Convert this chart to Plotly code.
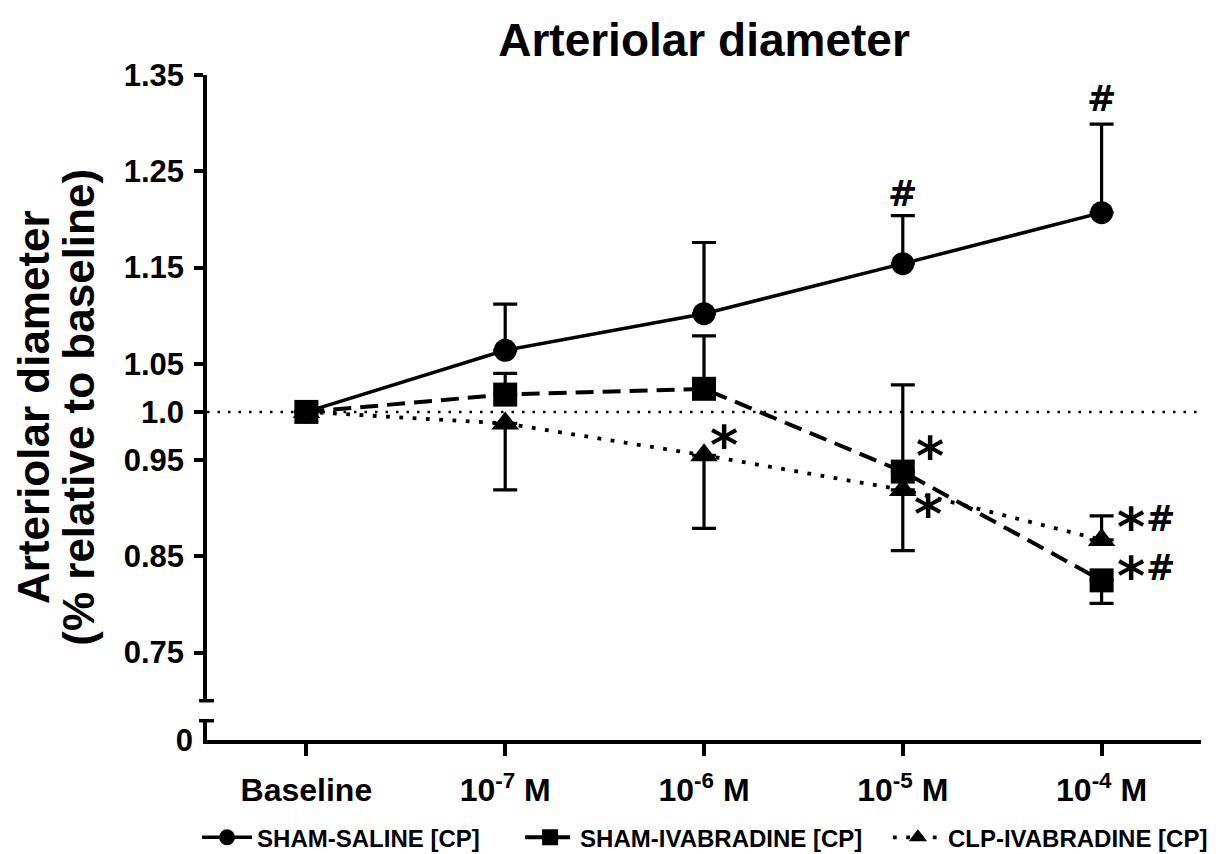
import plotly.graph_objects as go

# ---- data ----
categories = ["Baseline", "10<sup>-7</sup> M", "10<sup>-6</sup> M", "10<sup>-5</sup> M", "10<sup>-4</sup> M"]
x_idx = [0, 1, 2, 3, 4]

sham_saline = [1.0, 1.064, 1.102, 1.154, 1.207]
sham_saline_up = [0, 0.048, 0.074, 0.050, 0.092]
sham_saline_dn = [0, 0, 0, 0, 0]

sham_ivab = [1.0, 1.018, 1.024, 0.938, 0.825]
sham_ivab_up = [0, 0.022, 0.055, 0.090, 0]
sham_ivab_dn = [0, 0, 0, 0, 0.024]

clp_ivab = [1.0, 0.988, 0.955, 0.919, 0.867]
clp_ivab_up = [0, 0, 0, 0, 0.025]
clp_ivab_dn = [0, 0.069, 0.076, 0.063, 0]

y_tickvals = [0.75, 0.85, 0.95, 1.0, 1.05, 1.15, 1.25, 1.35]
y_ticktext = ["0.75", "0.85", "0.95", "1.0", "1.05", "1.15", "1.25", "1.35"]

FONT = "Liberation Sans, Arial, sans-serif"
BLACK = "black"

fig = go.Figure()

def err(up, dn):
    return dict(type="data", symmetric=False, array=up, arrayminus=dn,
                color=BLACK, thickness=3.2, width=12)

# empty trace so the lower (broken) axis segment exists
fig.add_trace(go.Scatter(x=[], y=[], xaxis="x", yaxis="y2", showlegend=False,
                         hoverinfo="skip", mode="markers"))

fig.add_trace(go.Scatter(
    x=x_idx, y=sham_saline, name="SHAM-SALINE [CP]", mode="lines+markers",
    line=dict(color=BLACK, width=3.5),
    marker=dict(symbol="circle", size=23, color=BLACK),
    error_y=err(sham_saline_up, sham_saline_dn), legend="legend", cliponaxis=False))

fig.add_trace(go.Scatter(
    x=x_idx, y=clp_ivab, name="CLP-IVABRADINE [CP]", mode="lines+markers",
    line=dict(color=BLACK, width=3.8, dash="3.8px,9.5px"),
    marker=dict(symbol="triangle-up", size=24, color=BLACK),
    error_y=err(clp_ivab_up, clp_ivab_dn), legend="legend3", cliponaxis=False))

fig.add_trace(go.Scatter(
    x=x_idx, y=sham_ivab, name="SHAM-IVABRADINE [CP]", mode="lines+markers",
    line=dict(color=BLACK, width=4, dash="18px,9px"),
    marker=dict(symbol="square", size=24, color=BLACK),
    error_y=err(sham_ivab_up, sham_ivab_dn), legend="legend2", cliponaxis=False))

# reference line at 1.0
fig.add_hline(y=1.0, line=dict(color=BLACK, width=2.5, dash="2.5px,8px"), layer="below")

# axis break caps
fig.add_shape(type="line", xref="paper", yref="y domain", xsizemode="pixel", xanchor=0,
              x0=-8, x1=7, y0=0, y1=0, line=dict(color=BLACK, width=3.5))
fig.add_shape(type="line", xref="paper", yref="y2 domain", xsizemode="pixel", xanchor=0,
              x0=-8, x1=7, y0=1, y1=1, line=dict(color=BLACK, width=3.5))

# significance marks
HASH_FONT = dict(family="DejaVu Sans, sans-serif", size=35, color=BLACK, weight="bold")
STAR_FONT = dict(family="DejaVu Sans, sans-serif", size=54, color=BLACK, weight="bold")
def mark(text, xi, yv, dx, dy, font):
    fig.add_annotation(x=xi, y=yv, xref="x", yref="y", text=text, showarrow=False,
                       xshift=dx, yshift=dy, font=font)

mark("#", 3, sham_saline[3] + sham_saline_up[3], 0, 22, HASH_FONT)
mark("#", 4, sham_saline[4] + sham_saline_up[4], 0, 25, HASH_FONT)
mark("*", 2, clp_ivab[2], 20, 10, STAR_FONT)
mark("*", 3, sham_ivab[3], 27, 15, STAR_FONT)
mark("*", 3, clp_ivab[3], 25, -25, STAR_FONT)
mark("*", 4, clp_ivab[4], 29, 12, STAR_FONT)
mark("#", 4, clp_ivab[4], 59, 21, HASH_FONT)
mark("*", 4, sham_ivab[4], 29, 4, STAR_FONT)
mark("#", 4, sham_ivab[4], 59, 12, HASH_FONT)

# y-axis title (two lines)
TITLE_FONT = dict(family=FONT, size=44, color=BLACK, weight="bold")
fig.add_annotation(x=-0.174, y=0.5008, xref="paper", yref="paper", text="Arteriolar diameter",
                   textangle=-90, showarrow=False, font=TITLE_FONT, xanchor="center", yanchor="middle")
fig.add_annotation(x=-0.129, y=0.5008, xref="paper", yref="paper", text="(% relative to baseline)",
                   textangle=-90, showarrow=False, font=TITLE_FONT, xanchor="center", yanchor="middle")

tickfont = dict(family=FONT, size=31, color=BLACK, weight="bold")
xtickfont = dict(family=FONT, size=32, color=BLACK, weight="bold")
legfont = dict(family=FONT, size=24, color=BLACK, weight="bold")

def leg(xpos):
    return dict(x=xpos, y=-0.147, xanchor="left", yanchor="middle", orientation="h",
                font=legfont, itemwidth=50, bgcolor="rgba(0,0,0,0)", borderwidth=0,
                tracegroupgap=0)

fig.update_layout(
    width=1219, height=854,
    margin=dict(l=199, r=26, t=67, b=122, autoexpand=False),
    paper_bgcolor="white", plot_bgcolor="white",
    showlegend=True,
    legend=leg(-0.010),
    legend2=leg(0.315),
    legend3=leg(0.685),
    title=dict(text="Arteriolar diameter", x=0.5, xref="paper", xanchor="center",
               y=1 - 32 / 854, yref="container", yanchor="middle",
               font=dict(family=FONT, size=46, color=BLACK, weight="bold")),
    xaxis=dict(
        domain=[0, 1], anchor="y2", range=[-0.5, 4.5],
        tickvals=x_idx, ticktext=categories,
        showline=True, linecolor=BLACK, linewidth=3.5,
        ticks="outside", ticklen=12, tickwidth=3.5, tickcolor=BLACK,
        showgrid=False, zeroline=False, tickfont=xtickfont, ticklabelstandoff=7),
    yaxis=dict(
        domain=[0.0591, 1], anchor="x", range=[0.70, 1.35],
        tickvals=y_tickvals, ticktext=y_ticktext,
        showline=True, linecolor=BLACK, linewidth=3.5,
        ticks="outside", ticklen=9, tickwidth=3.5, tickcolor=BLACK,
        showgrid=False, zeroline=False, tickfont=tickfont, ticklabelstandoff=4),
    yaxis2=dict(
        domain=[0, 0.029], anchor="x", range=[0, 0.02],
        tickvals=[0], ticktext=["0"],
        showline=True, linecolor=BLACK, linewidth=3.5,
        ticks="", showgrid=False, zeroline=False, tickfont=tickfont, ticklabelstandoff=4),
)

fig.write_html("out.html")
